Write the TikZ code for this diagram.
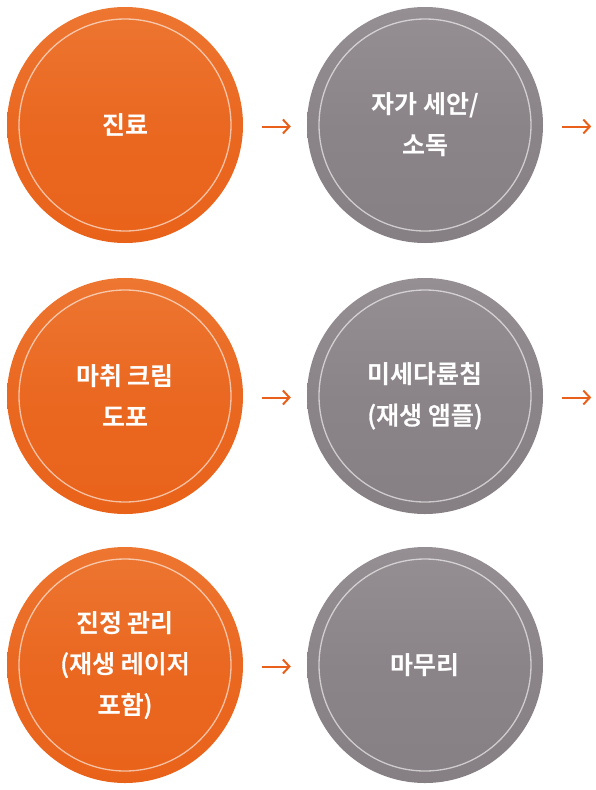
\documentclass[tikz,border=0pt]{standalone}
\usepackage{fontspec}
\usetikzlibrary{arrows.meta}
\newfontfamily\kr{Noto Sans CJK KR}[BoldFont={* Bold}]
\newfontfamily\krm{Noto Sans CJK KR Medium}[FakeBold=1.2]
\definecolor{orA}{HTML}{ED7631}
\definecolor{orB}{HTML}{E9621A}
\definecolor{grA}{HTML}{958E92}
\definecolor{grB}{HTML}{867F83}
\definecolor{arr}{HTML}{E8601A}
\tikzset{
  bubble/.style={circle, minimum size=236pt, inner sep=0pt, align=center,
    text=white, font=\kr\bfseries\fontsize{25}{41}\selectfont, shading angle=40},
  orangeb/.style={bubble, top color=orA, bottom color=orB, middle color=orB!70!orA},
  grayb/.style={bubble, top color=grA, bottom color=grB, middle color=grB!70!grA},
  ring/.style={draw=white, draw opacity=0.6, line width=1.3pt},
  flow/.style={draw=arr, line width=2pt, -{Straight Barb[length=6.5pt,width=14pt,line width=2pt]}}
}
\newcommand{\subl}[1]{{\krm\mdseries #1}}
\begin{document}
\begin{tikzpicture}[x=1pt,y=-1pt]
\useasboundingbox (0,0) rectangle (596,790);
\node[orangeb] (c1) at (125,125) {진료};
\node[grayb]   (c2) at (425,125) {자가 세안/\\소독};
\node[orangeb] (c3) at (125,396) {마취 크림\\도포};
\node[grayb]   (c4) at (425,396) {미세다륜침\\\subl{(재생 앰플)}};
\node[orangeb] (c5) at (125,665) {진정 관리\\\subl{(재생 레이저}\\\subl{포함)}};
\node[grayb]   (c6) at (425,665) {마무리};
\foreach \n in {c1,c2,c3,c4,c5,c6} \draw[ring] (\n.center) circle (106pt);
\coordinate (e2) at ([shift={(48pt,-1.5pt)}]c2.east);
\coordinate (e4) at ([shift={(48pt,-1.5pt)}]c4.east);
\draw[flow] ([shift={(19pt,-1.5pt)}]c1.east) -- ([shift={(-16pt,-1.5pt)}]c2.west);
\draw[flow] ([shift={(19pt,-1.5pt)}]c2.east) -- (e2);
\draw[flow] ([shift={(19pt,-1.5pt)}]c3.east) -- ([shift={(-16pt,-1.5pt)}]c4.west);
\draw[flow] ([shift={(19pt,-1.5pt)}]c4.east) -- (e4);
\draw[flow] ([shift={(19pt,-1.5pt)}]c5.east) -- ([shift={(-16pt,-1.5pt)}]c6.west);
\end{tikzpicture}
\end{document}
